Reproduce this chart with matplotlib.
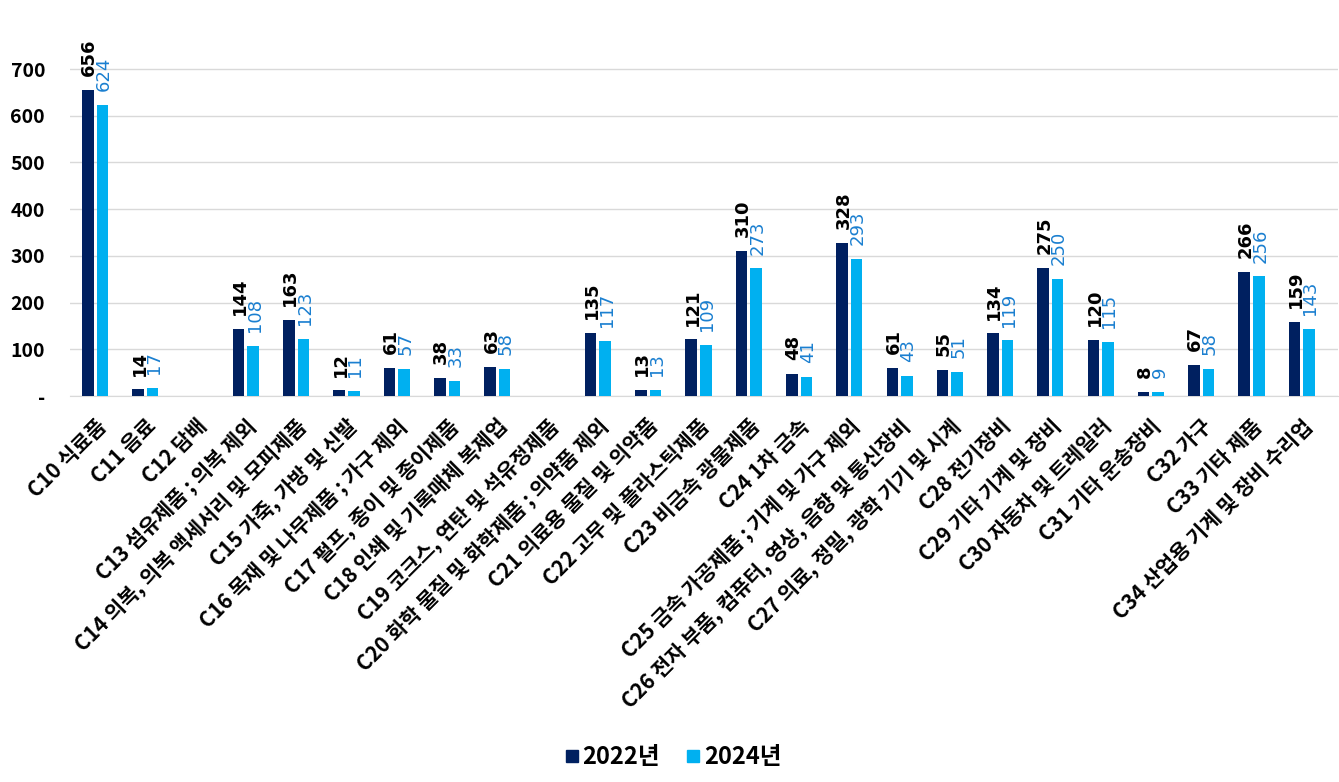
import numpy as np
import matplotlib.pyplot as plt
from matplotlib.lines import Line2D

plt.rcParams['font.family'] = ['Noto Sans CJK KR', 'DejaVu Sans']

# -------------------- DATA --------------------
categories = [
    "C10 식료품", "C11 음료", "C12 담배", "C13 섬유제품 ; 의복 제외",
    "C14 의복, 의복 액세서리 및 모피제품", "C15 가죽, 가방 및 신발",
    "C16 목재 및 나무제품 ; 가구 제외", "C17 펄프, 종이 및 종이제품",
    "C18 인쇄 및 기록매체 복제업", "C19 코크스, 연탄 및 석유정제품",
    "C20 화학 물질 및 화학제품 ; 의약품 제외", "C21 의료용 물질 및 의약품",
    "C22 고무 및 플라스틱제품", "C23 비금속 광물제품", "C24 1차 금속",
    "C25 금속 가공제품 ; 기계 및 가구 제외",
    "C26 전자 부품, 컴퓨터, 영상, 음향 및 통신장비",
    "C27 의료, 정밀, 광학 기기 및 시계", "C28 전기장비", "C29 기타 기계 및 장비",
    "C30 자동차 및 트레일러", "C31 기타 운송장비", "C32 가구", "C33 기타 제품",
    "C34 산업용 기계 및 장비 수리업",
]
# None = no data for that industry
values_2022 = [656, 14, None, 144, 163, 12, 61, 38, 63, None, 135, 13, 121,
               310, 48, 328, 61, 55, 134, 275, 120, 8, 67, 266, 159]
values_2024 = [624, 17, None, 108, 123, 11, 57, 33, 58, None, 117, 13, 109,
               273, 41, 293, 43, 51, 119, 250, 115, 9, 58, 256, 143]
series_names = ["2022년", "2024년"]
yticks = [0, 100, 200, 300, 400, 500, 600, 700]
ytick_labels = ["-", "100", "200", "300", "400", "500", "600", "700"]

# -------------------- STYLE --------------------
dark_col = "#002060"
light_col = "#00B0F0"
light_txt = "#1A7FD0"
bar_w = 0.23
offset = 0.145

fig = plt.figure(figsize=(13.39, 7.82), dpi=100)
ax = fig.add_axes([70 / 1339, 1 - 396 / 782, (1338 - 70) / 1339, (396 - 31.7) / 782])

x = np.arange(len(categories))
for vals, dx, col, tcol, weight in [
    (values_2022, -offset, dark_col, "black", "bold"),
    (values_2024, offset, light_col, light_txt, "normal"),
]:
    for xi, v in zip(x, vals):
        if v is None:
            continue
        ax.bar(xi + dx, v, width=bar_w, color=col, zorder=3)
        ax.annotate(str(v), (xi + dx, v), xytext=(1, 10), textcoords="offset points",
                    rotation=90, ha="center", va="bottom", fontsize=13,
                    fontweight=weight, color=tcol, family=["DejaVu Sans"])

ax.set_xlim(-0.5, 24.72)
ax.set_ylim(0, 780)
ax.set_yticks(yticks)
ax.set_yticklabels(ytick_labels, fontsize=14, fontweight="bold")
ax.set_xticks(x)
ax.set_xticklabels(categories, rotation=45, ha="right", rotation_mode="anchor",
                   fontsize=15, fontweight="bold")
ax.tick_params(axis="both", length=0)
ax.tick_params(axis="y", pad=18)
ax.tick_params(axis="x", pad=14)
ax.grid(axis="y", color="#D9D9D9", linewidth=1, zorder=0)
for s in ["top", "right", "left"]:
    ax.spines[s].set_visible(False)
ax.spines["bottom"].set_color("#D9D9D9")

handles = [Line2D([], [], marker="s", linestyle="", markersize=9, color=dark_col),
           Line2D([], [], marker="s", linestyle="", markersize=9, color=light_col)]
fig.legend(handles, series_names, loc="center", bbox_to_anchor=(672 / 1339, 1 - 757 / 782),
           ncol=2, frameon=False, prop={"size": 17, "weight": "bold"},
           handletextpad=0.05, columnspacing=1.0, handlelength=0.8)

fig.savefig("out.png", dpi=100)
